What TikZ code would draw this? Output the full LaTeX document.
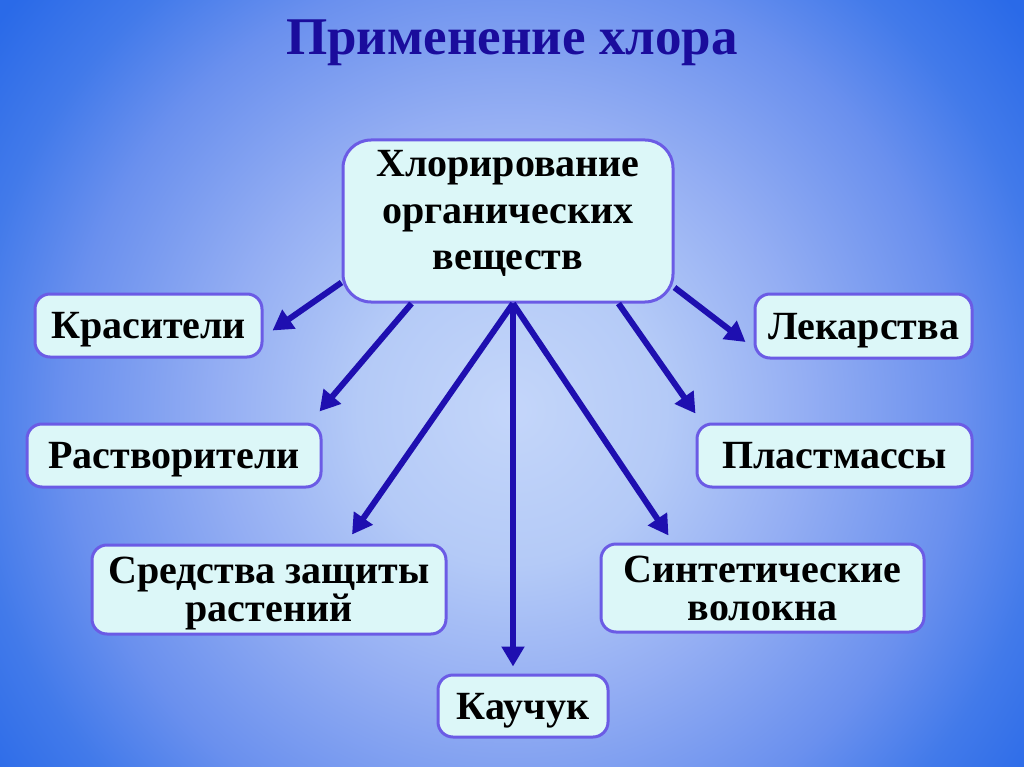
\documentclass[tikz,border=0pt]{standalone}
\usepackage{fontspec}
\setmainfont{Liberation Serif}
\usepackage{tikz}
\usetikzlibrary{arrows.meta,calc}
\usepackage{xcolor}
\definecolor{colfondo}{HTML}{C4D6FA}
\definecolor{colfondoB}{HTML}{B4CAF7}
\definecolor{colfondoC}{HTML}{94AEF3}
\definecolor{colfondoD}{HTML}{6A90EE}
\definecolor{colfondoE}{HTML}{427AEA}
\definecolor{colborde}{HTML}{2A6AE8}
\definecolor{colcaja}{HTML}{DCF7F8}
\definecolor{collinea}{HTML}{6B5BE5}
\definecolor{colflecha}{HTML}{1E0FB0}
\definecolor{coltitulo}{HTML}{1A0C9C}
% el cuadrado central de 50bp se ajusta al camino: radios a la mitad
\pgfdeclareradialshading{fondo}{\pgfpoint{0bp}{0bp}}{%
  color(0bp)=(colfondo); color(5.5bp)=(colfondoB); color(10.5bp)=(colfondoC);
  color(16bp)=(colfondoD); color(19.5bp)=(colfondoE); color(23bp)=(colborde);
  color(50bp)=(colborde)}

\begin{document}
\begin{tikzpicture}[
  x=1pt, y=-1pt,
  caja/.style={draw=collinea, line width=3pt, fill=colcaja, rounded corners=15pt,
    font=\fontsize{40}{38}\selectfont\bfseries, align=center,
    text depth=0pt, inner sep=0pt},
  head/.style={-{Triangle[length=20pt,width=22pt]}, line width=6pt, colflecha},
]
  \useasboundingbox (0,0) rectangle (1024,767);

  % fondo: degradado circular, claro en el centro
  \begin{scope}
    \clip (0,0) rectangle (1024,767);
    \shade[shading=fondo] (-188,-290) rectangle (1212,1110);
  \end{scope}

  \node[coltitulo, font=\fontsize{53}{60}\selectfont\bfseries, anchor=base]
    (titulo) at (512,55) {Применение хлора};

  \node[caja, rounded corners=28pt, minimum width=330pt, minimum height=162pt,
    font=\fontsize{40}{46.5}\selectfont\bfseries, text depth=22pt]
    (chl) at (508,221) {Хлорирование\\органических\\веществ};

  \node[caja, minimum width=227pt, minimum height=63pt] (kras) at (148.5,325.5) {Красители};
  \node[caja, minimum width=294pt, minimum height=63pt] (rast) at (174,455.5) {Растворители};
  \node[caja, minimum width=354pt, minimum height=89pt] (sred) at (269,589.5)
    {Средства защиты\\растений};
  \node[caja, minimum width=170pt, minimum height=62pt] (kauch) at (523,706) {Каучук};
  \node[caja, minimum width=323pt, minimum height=88pt] (sint) at (762.5,588)
    {Синтетические\\волокна};
  \node[caja, minimum width=275pt, minimum height=63pt] (plast) at (834.5,455.5) {Пластмассы};
  \node[caja, minimum width=217pt, minimum height=64pt] (lek) at (863.5,326) {Лекарства};

  % salidas sobre el borde de la caja central
  \coordinate (s1) at ($(chl.south west)+(0,-21)$);
  \coordinate (s2) at ($(chl.south west)+(70,0)$);
  \coordinate (s0) at ($(chl.south)+(5,0)$);
  \coordinate (s4) at ($(chl.south east)+(-56,0)$);
  \coordinate (s5) at ($(chl.south east)+(0,-16)$);

  % puntas, un poco antes de cada caja
  \coordinate (e1) at ($(kras.east)+(9,5)$);
  \coordinate (e2) at ($(rast.north east)+(-3,-11)$);
  \coordinate (e3) at ($(sred.north)+(83,-9)$);
  \coordinate (e4) at ($(kauch.north)+(-10,-7)$);
  \coordinate (e5) at ($(sint.north west)+(69,-7)$);
  \coordinate (e6) at ($(plast.north west)+(0,-9)$);
  \coordinate (e7) at ($(lek.west)+(-8,16)$);

  \draw[head] (s1) -- (e1);
  \draw[head] (s2) -- (e2);
  \draw[head] (s0) -- (e3);
  \draw[head] (s0) -- (e4);
  \draw[head] (s0) -- (e5);
  \draw[head] (s4) -- (e6);
  \draw[head] (s5) -- (e7);
\end{tikzpicture}
\end{document}
